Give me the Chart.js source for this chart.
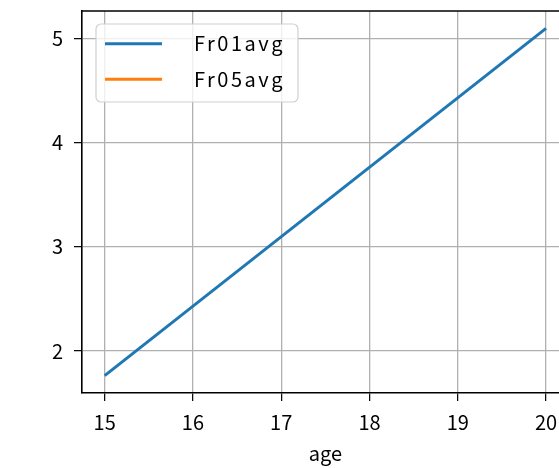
<!DOCTYPE html>
<html>
<head>
<meta charset="utf-8">
<script src="https://cdn.jsdelivr.net/npm/chart.js@4"></script>
<style>
  html, body { margin: 0; padding: 0; background: #fff; overflow: hidden; }
  #wrap { width: 559px; height: 468px; overflow: hidden; }
</style>
</head>
<body>
<div id="wrap"><canvas id="grafica" width="600" height="468"></canvas></div>
<script>
// Datos
const edades = [15, 20];
const fr01avg = [1.764, 5.094];
const fr05avg = [null, null];   // no se ve ninguna linea naranja
const ticksX = [15, 16, 17, 18, 19, 20];
const ticksY = [2, 3, 4, 5];

const fuente = "'Noto Sans CJK JP', 'DejaVu Sans', sans-serif";
Chart.defaults.font.family = fuente;
Chart.defaults.font.size = 20;
Chart.defaults.color = '#000';

// Leyenda dentro del area (estilo matplotlib) y borde superior
const leyendaInterna = {
  id: 'leyendaInterna',
  afterDraw(chart) {
    const ctx = chart.ctx;
    const area = chart.chartArea;
    ctx.save();
    ctx.strokeStyle = '#000';
    ctx.lineWidth = 1.6;
    ctx.beginPath();
    ctx.moveTo(area.left, area.top);
    ctx.lineTo(area.right, area.top);
    ctx.stroke();

    const x = 96, y = 24, w = 202, h = 78, r = 5;
    ctx.fillStyle = 'rgba(255,255,255,0.8)';
    ctx.strokeStyle = '#d0d0d0';
    ctx.lineWidth = 1.2;
    ctx.beginPath();
    ctx.roundRect(x, y, w, h, r);
    ctx.fill();
    ctx.stroke();

    chart.data.datasets.forEach((ds, i) => {
      const cy = 43.7 + i * 35.6;
      ctx.strokeStyle = ds.borderColor;
      ctx.lineWidth = 3;
      ctx.beginPath();
      ctx.moveTo(105, cy);
      ctx.lineTo(162, cy);
      ctx.stroke();
      ctx.fillStyle = '#000';
      ctx.font = '20px ' + fuente;
      ctx.letterSpacing = '2.5px';
      ctx.textBaseline = 'middle';
      ctx.textAlign = 'left';
      ctx.fillText(ds.label, 194, cy);
    });
    ctx.restore();
  }
};

new Chart(document.querySelector('#grafica'), {
  type: 'line',
  data: {
    datasets: [
      {
        label: 'Fr01avg',
        data: edades.map((e, i) => ({ x: e, y: fr01avg[i] })),
        borderColor: '#1f77b4',
        borderWidth: 3,
        pointRadius: 0,
        tension: 0
      },
      {
        label: 'Fr05avg',
        data: edades.map((e, i) => ({ x: e, y: fr05avg[i] })),
        borderColor: '#ff7f0e',
        borderWidth: 3,
        pointRadius: 0,
        tension: 0
      }
    ]
  },
  options: {
    responsive: false,
    animation: false,
    layout: { padding: { top: 11, right: 31.3, bottom: 0, left: 0 } },
    plugins: {
      legend: { display: false },
      tooltip: { enabled: false }
    },
    scales: {
      x: {
        type: 'linear',
        min: 14.743,
        max: 20.257,
        afterFit(scale) {
          scale.height = 75;
          scale.paddingLeft = 0;
          scale.paddingRight = 0;
        },
        afterBuildTicks(scale) { scale.ticks = ticksX.map(v => ({ value: v })); },
        ticks: { padding: 9, maxRotation: 0 },
        grid: { color: '#b0b0b0', lineWidth: 1.3, tickLength: 8, tickColor: '#000', tickWidth: 1.2 },
        border: { color: '#000', width: 1.6 },
        title: { display: true, text: 'age', font: { size: 20 }, padding: { top: 0, bottom: 3 } }
      },
      y: {
        type: 'linear',
        min: 1.597,
        max: 5.261,
        afterFit(scale) {
          scale.width = 82;
          scale.paddingTop = 0;
          scale.paddingBottom = 0;
        },
        afterBuildTicks(scale) { scale.ticks = ticksY.map(v => ({ value: v })); },
        ticks: { padding: 11 },
        grid: { color: '#b0b0b0', lineWidth: 1.3, tickLength: 8, tickColor: '#000', tickWidth: 1.2 },
        border: { color: '#000', width: 1.6 }
      }
    }
  },
  plugins: [leyendaInterna]
});
</script>
</body>
</html>
